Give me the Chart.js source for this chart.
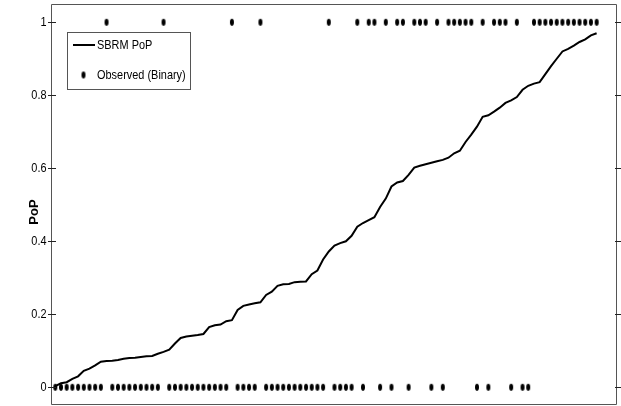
<!DOCTYPE html>
<html>
<head>
<meta charset="utf-8">
<script src="https://cdn.jsdelivr.net/npm/chart.js@4/dist/chart.umd.min.js"></script>
<style>
  html, body { margin: 0; padding: 0; background: #fff; }
  #wrap { width: 621px; height: 406px; position: relative; }
</style>
</head>
<body>
<div id="wrap"><canvas id="c" width="621" height="406"></canvas></div>
<script>
// Forecast probability of precipitation (sorted ascending), one per case
const popValues = [
  0.003, 0.011, 0.014, 0.023, 0.030, 0.045, 0.051, 0.060, 0.070, 0.072,
  0.073, 0.075, 0.078, 0.080, 0.081, 0.083, 0.085, 0.086, 0.092, 0.097,
  0.103, 0.120, 0.135, 0.139, 0.141, 0.143, 0.146, 0.165, 0.170, 0.172,
  0.181, 0.184, 0.212, 0.223, 0.227, 0.230, 0.233, 0.253, 0.262, 0.278,
  0.282, 0.283, 0.288, 0.289, 0.290, 0.310, 0.320, 0.350, 0.372, 0.388,
  0.395, 0.400, 0.415, 0.440, 0.450, 0.458, 0.466, 0.494, 0.517, 0.550,
  0.561, 0.565, 0.582, 0.602, 0.607, 0.611, 0.615, 0.619, 0.623, 0.629,
  0.641, 0.648, 0.672, 0.692, 0.714, 0.741, 0.745, 0.755, 0.766, 0.779,
  0.786, 0.795, 0.815, 0.826, 0.832, 0.836, 0.858, 0.880, 0.900, 0.920,
  0.927, 0.936, 0.946, 0.953, 0.964, 0.970
];

// Observed precipitation occurrence (1 = rain, 0 = no rain) for the same cases
const observed = [
  0, 0, 0, 0, 0, 0, 0, 0, 0, 1,
  0, 0, 0, 0, 0, 0, 0, 0, 0, 1,
  0, 0, 0, 0, 0, 0, 0, 0, 0, 0,
  0, 1, 0, 0, 0, 0, 1, 0, 0, 0,
  0, 0, 0, 0, 0, 0, 0, 0, 1, 0,
  0, 0, 0, 1, 0, 1, 1, 0, 1, 0,
  1, 1, 0, 1, 1, 1, 0, 1, 0, 1,
  1, 1, 1, 1, 0, 1, 0, 1, 1, 1,
  0, 1, 0, 0, 1, 1, 1, 1, 1, 1,
  1, 1, 1, 1, 1, 1
];

const seriesLabels = ['SBRM PoP', 'Observed (Binary)'];
const yTicks = [0, 0.2, 0.4, 0.6, 0.8, 1];
const yTickLabels = ['0', '0.2', '0.4', '0.6', '0.8', '1'];
const yAxisTitle = 'PoP';

const FONT = '"Liberation Sans", Arial, sans-serif';
const SQUEEZE = 0.81;   // horizontal compression of the narrow label face

// small vertically stretched dot used as the observation marker
function makeDot() {
  const c = document.createElement('canvas');
  c.width = 6; c.height = 9;
  const g = c.getContext('2d');
  g.fillStyle = '#000';
  g.beginPath();
  g.ellipse(3, 4.5, 2.0, 3.4, 0, 0, Math.PI * 2);
  g.fill();
  return c;
}
const dotImg = makeDot();

function narrowText(ctx, text, x, y, align) {
  ctx.save();
  ctx.translate(x, y);
  ctx.scale(SQUEEZE, 1);
  ctx.textAlign = align;
  ctx.textBaseline = 'middle';
  ctx.fillText(text, 0, 0);
  ctx.restore();
}

// Box frame, ticks, tick labels, axis title and in-plot legend
const framePlugin = {
  id: 'frame',
  afterDraw(chart) {
    const ctx = chart.ctx;
    const a = chart.chartArea;
    const ys = chart.scales.y;
    ctx.save();
    ctx.strokeStyle = '#555';
    ctx.lineWidth = 1;
    ctx.beginPath();
    ctx.moveTo(a.left + 0.5, a.top + 0.5);
    ctx.lineTo(a.right + 0.5, a.top + 0.5);
    ctx.lineTo(a.right + 0.5, a.bottom - 0.5);
    ctx.lineTo(a.left + 0.5, a.bottom - 0.5);
    ctx.closePath();
    ctx.stroke();

    ctx.strokeStyle = '#222';
    ctx.fillStyle = '#000';
    ctx.font = '13.5px ' + FONT;
    yTicks.forEach((v, i) => {
      const py = Math.round(ys.getPixelForValue(v)) + 0.5;
      ctx.beginPath();
      ctx.moveTo(a.left - 3, py);
      ctx.lineTo(a.left + 5, py);
      ctx.moveTo(a.right - 1, py);
      ctx.lineTo(a.right + 6, py);
      ctx.stroke();
      narrowText(ctx, yTickLabels[i], a.left - 4.5, py, 'right');
    });

    // y axis title
    ctx.font = 'bold 13px ' + FONT;
    ctx.save();
    ctx.translate(34, 212);
    ctx.rotate(-Math.PI / 2);
    ctx.textAlign = 'center';
    ctx.textBaseline = 'middle';
    ctx.fillText(yAxisTitle, 0, 0);
    ctx.restore();

    // legend box
    const lx = 67, ly = 32, lw = 123, lh = 57;
    ctx.fillStyle = '#fff';
    ctx.fillRect(lx, ly, lw, lh);
    ctx.strokeStyle = '#555';
    ctx.strokeRect(lx + 0.5, ly + 0.5, lw, lh);

    const ds = chart.data.datasets;
    ctx.strokeStyle = '#000';
    ctx.lineWidth = 2;
    ctx.beginPath();
    ctx.moveTo(73, 45);
    ctx.lineTo(95, 45);
    ctx.stroke();
    ctx.drawImage(dotImg, 83.5 - 3, 75 - 4.5);

    ctx.fillStyle = '#000';
    ctx.font = '13.5px ' + FONT;
    narrowText(ctx, ds[0].label, 97, 45.5, 'left');
    narrowText(ctx, ds[1].label, 97, 75.5, 'left');
    ctx.restore();
  }
};

new Chart(document.getElementById('c'), {
  type: 'scatter',
  data: {
    datasets: [
      {
        type: 'line',
        label: seriesLabels[0],
        data: popValues.map((v, i) => ({ x: i, y: v })),
        borderColor: '#000',
        borderWidth: 2,
        pointRadius: 0,
        tension: 0,
        fill: false,
        order: 2
      },
      {
        type: 'scatter',
        label: seriesLabels[1],
        data: observed.map((v, i) => ({ x: i, y: v })),
        pointStyle: dotImg,
        pointRadius: 3,
        backgroundColor: '#000',
        borderColor: '#000',
        order: 1
      }
    ]
  },
  options: {
    responsive: false,
    animation: false,
    devicePixelRatio: 1,
    layout: { autoPadding: false, padding: { top: 4, right: 5, bottom: 1, left: 0 } },
    plugins: {
      legend: { display: false },
      tooltip: { enabled: false }
    },
    scales: {
      x: {
        type: 'linear',
        display: false,
        min: -0.75,
        max: 98.4
      },
      y: {
        type: 'linear',
        min: -0.0485,
        max: 1.050,
        afterFit: s => { s.width = 51; s.paddingTop = 0; s.paddingBottom = 0; },
        afterBuildTicks: s => { s.ticks = yTicks.map(v => ({ value: v })); },
        grid: { display: false, drawTicks: false },
        border: { display: false },
        ticks: { display: false }
      }
    }
  },
  plugins: [framePlugin]
});
</script>
</body>
</html>
